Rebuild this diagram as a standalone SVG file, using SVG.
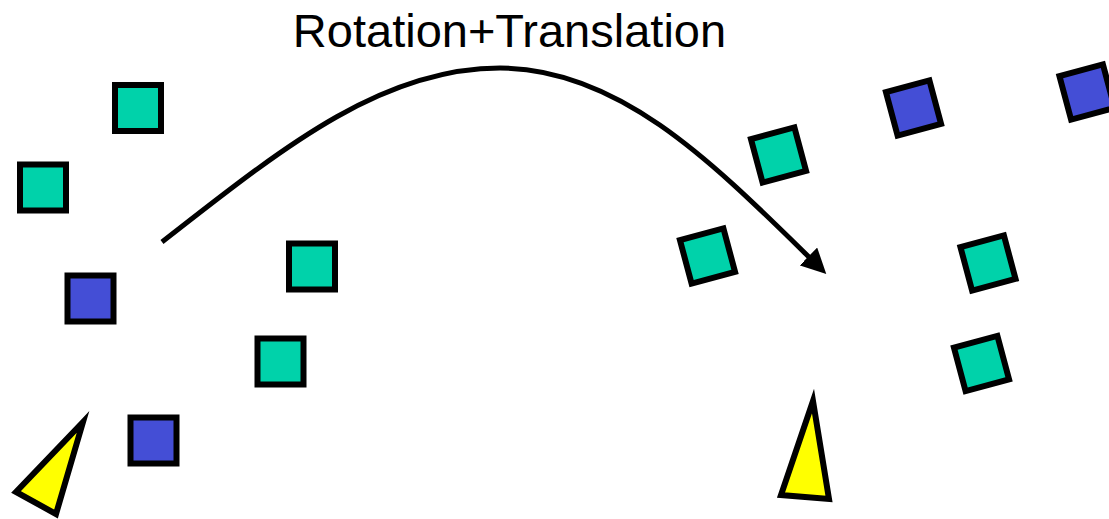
<svg xmlns="http://www.w3.org/2000/svg" width="1109" height="519" viewBox="0 0 1109 519">
<style>
.g{fill:#00D2AA;stroke:#000;stroke-width:6}
.b{fill:#444ED6;stroke:#000;stroke-width:6}
.y{fill:#FFFF00;stroke:#000;stroke-width:6;stroke-linejoin:miter;stroke-miterlimit:10}
.lbl{font-family:"Liberation Sans",Arial,sans-serif;font-size:47px;fill:#000}
</style>
<defs>
<marker id="ah" viewBox="0 0 10 10" refX="2" refY="5" markerWidth="5" markerHeight="5" markerUnits="strokeWidth" orient="auto">
<path d="M0,0 L10,5 L0,10 Z" fill="#000"/>
</marker>
</defs>
<rect width="1109" height="519" fill="#fff"/>
<text class="lbl" x="509.5" y="47" text-anchor="middle">Rotation+Translation</text>
<g id="connectors">
<path d="M162,242 C280,150 380,68 500,68 C620,68 715,165 812,260" fill="none" stroke="#000" stroke-width="5" marker-end="url(#ah)"/>
</g>
<g id="left-g1"><rect class="g" x="115" y="85" width="46" height="46"/></g>
<g id="left-g2"><rect class="g" x="20" y="164.5" width="46" height="46"/></g>
<g id="left-b1"><rect class="b" x="67.5" y="275.5" width="46" height="46"/></g>
<g id="left-g3"><rect class="g" x="289" y="243.5" width="46" height="46"/></g>
<g id="left-g4"><rect class="g" x="257.5" y="338.5" width="46" height="46"/></g>
<g id="left-b2"><rect class="b" x="130.5" y="417.5" width="46" height="46"/></g>
<g id="left-tri"><polygon class="y" points="83,422 16,492 56,514"/></g>
<g id="right-g1"><rect class="g" x="-22.5" y="-22.5" width="45" height="45" transform="translate(778.5,155) rotate(-15)"/></g>
<g id="right-g2"><rect class="g" x="-22.5" y="-22.5" width="45" height="45" transform="translate(707.5,256) rotate(-15)"/></g>
<g id="right-b1"><rect class="b" x="-22.5" y="-22.5" width="45" height="45" transform="translate(913.5,108) rotate(-15)"/></g>
<g id="right-b2"><rect class="b" x="-22.5" y="-22.5" width="45" height="45" transform="translate(1087,92) rotate(-15)"/></g>
<g id="right-g3"><rect class="g" x="-22.5" y="-22.5" width="45" height="45" transform="translate(988,263) rotate(-15)"/></g>
<g id="right-g4"><rect class="g" x="-22.5" y="-22.5" width="45" height="45" transform="translate(981.5,363.5) rotate(-15)"/></g>
<g id="right-tri"><polygon class="y" points="813,401 781,495 829,499"/></g>
</svg>
